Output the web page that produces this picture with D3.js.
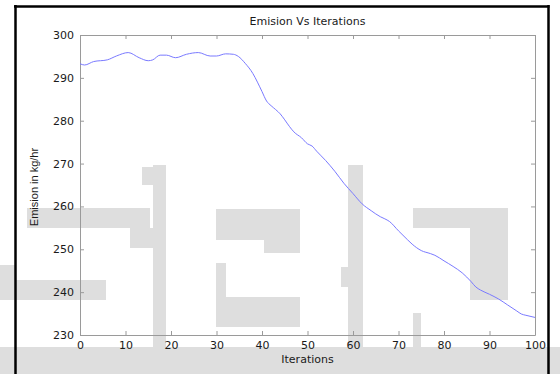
<!DOCTYPE html>
<html>
<head>
<meta charset="utf-8">
<script src="https://cdn.jsdelivr.net/npm/d3@7"></script>
<style>
  body { margin: 0; background: #fff; }
  svg { display: block; }
</style>
</head>
<body>
<script>
// data
const iterations = [0, 1, 3, 6, 8, 10.6, 13, 15, 16, 17.6, 19, 21, 23.4, 26, 28.6, 30, 32, 33.7, 34.8, 36.3, 38, 39, 40, 41, 42, 43, 44, 45, 46, 47, 48.7, 50, 51, 52, 54, 56, 58, 60, 62, 64, 66, 67, 68, 70, 72, 73, 75, 77, 78, 80, 82, 84, 86, 87, 88, 90, 92, 94, 96, 97, 98, 100];
const emission = [293.3, 293.0, 293.8, 294.2, 295.1, 295.9, 294.7, 294.0, 294.2, 295.3, 295.3, 294.7, 295.5, 295.9, 295.1, 295.1, 295.6, 295.5, 295.0, 293.4, 291.0, 289.0, 286.8, 284.6, 283.5, 282.6, 281.6, 280.2, 278.7, 277.4, 276.0, 274.6, 274.1, 272.9, 270.7, 268.2, 265.4, 263.0, 260.6, 259.0, 257.6, 257.1, 256.5, 254.3, 252.2, 251.2, 249.7, 249.0, 248.6, 247.3, 246.0, 244.5, 242.4, 241.2, 240.5, 239.5, 238.4, 237.0, 235.6, 234.9, 234.6, 234.1];
const xTicks = [0, 10, 20, 30, 40, 50, 60, 70, 80, 90, 100];
const yTicks = [230, 240, 250, 260, 270, 280, 290, 300];

// background watermark blocks (decoration, page pixels)
const watermark = [
  [153, 165, 13, 182], [142, 167, 24, 18], [27, 208, 123, 20], [130, 228, 25, 20],
  [0, 280, 106, 20], [0, 265, 15, 35],
  [216, 209, 84, 31], [264, 240, 36, 13], [216, 297, 84, 30], [216, 263, 10, 34],
  [348, 165, 15, 182], [341, 267, 7, 20],
  [413, 208, 95, 20], [470, 228, 38, 72], [413, 313, 8, 34],
  [0, 347, 560, 27]
];

const W = 560, H = 374;
const margin = { top: 35, right: 25, bottom: 39, left: 80 };
const width = W - margin.left - margin.right;
const height = H - margin.top - margin.bottom;

const svg = d3.select('body').append('svg')
  .attr('width', W)
  .attr('height', H);

svg.append('g')
  .selectAll('rect')
  .data(watermark)
  .join('rect')
  .attr('x', d => d[0])
  .attr('y', d => d[1])
  .attr('width', d => d[2])
  .attr('height', d => d[3])
  .style('fill', '#dedede');

// figure frame
const frame = svg.append('g').style('stroke', '#000').style('stroke-width', 2.5);
frame.append('line').attr('x1', 15.5).attr('x2', 15.5).attr('y1', 5).attr('y2', H);
frame.append('line').attr('x1', 14).attr('x2', 549.5).attr('y1', 6.5).attr('y2', 6.5);
frame.append('line').attr('x1', 548.5).attr('x2', 548.5).attr('y1', 5).attr('y2', H);

const g = svg.append('g')
  .attr('transform', `translate(${margin.left},${margin.top})`);

const x = d3.scaleLinear().domain([0, 100]).range([0, width]);
const y = d3.scaleLinear().domain([230, 300]).range([height, 0]);

const xAxis = d3.axisBottom(x).tickValues(xTicks).tickSizeInner(-4).tickSizeOuter(0).tickPadding(6);
const yAxis = d3.axisLeft(y).tickValues(yTicks).tickSizeInner(-4).tickSizeOuter(0).tickPadding(6);
const xTop = d3.axisTop(x).tickValues(xTicks).tickSizeInner(-4).tickSizeOuter(0).tickFormat('');
const yRight = d3.axisRight(y).tickValues(yTicks).tickSizeInner(-4).tickSizeOuter(0).tickFormat('');

const styleAxis = sel => {
  sel.selectAll('path, line').style('stroke', '#9a9a9a').style('stroke-width', 1);
  sel.selectAll('text')
    .style('font-family', '"DejaVu Sans", sans-serif')
    .style('font-size', '11px')
    .style('fill', '#1a1a1a');
};

g.append('g').attr('transform', `translate(0,${height})`).call(xAxis).call(styleAxis);
g.append('g').call(yAxis).call(styleAxis);
g.append('g').call(xTop).call(styleAxis);
g.append('g').attr('transform', `translate(${width},0)`).call(yRight).call(styleAxis);

const series = iterations.map((it, i) => ({ it, v: emission[i] }));

const line = d3.line()
  .x(d => x(d.it))
  .y(d => y(d.v))
  .curve(d3.curveMonotoneX);

g.append('path')
  .attr('d', line(series))
  .style('fill', 'none')
  .style('stroke', '#7a7aff')
  .style('stroke-width', 1);

// titles
g.append('text')
  .attr('x', width / 2)
  .attr('y', -10)
  .attr('text-anchor', 'middle')
  .style('font-family', '"DejaVu Sans", sans-serif')
  .style('font-size', '11px')
  .style('fill', '#1a1a1a')
  .text('Emision Vs Iterations');

g.append('text')
  .attr('x', width / 2)
  .attr('y', height + 28)
  .attr('text-anchor', 'middle')
  .style('font-family', '"DejaVu Sans", sans-serif')
  .style('font-size', '11px')
  .style('fill', '#1a1a1a')
  .text('Iterations');

svg.append('text')
  .attr('transform', 'translate(38,187) rotate(-90)')
  .attr('text-anchor', 'middle')
  .style('font-family', '"Liberation Sans", Arial, sans-serif')
  .style('font-size', '11px')
  .style('fill', '#1a1a1a')
  .text('Emision in kg/hr');
</script>
</body>
</html>
